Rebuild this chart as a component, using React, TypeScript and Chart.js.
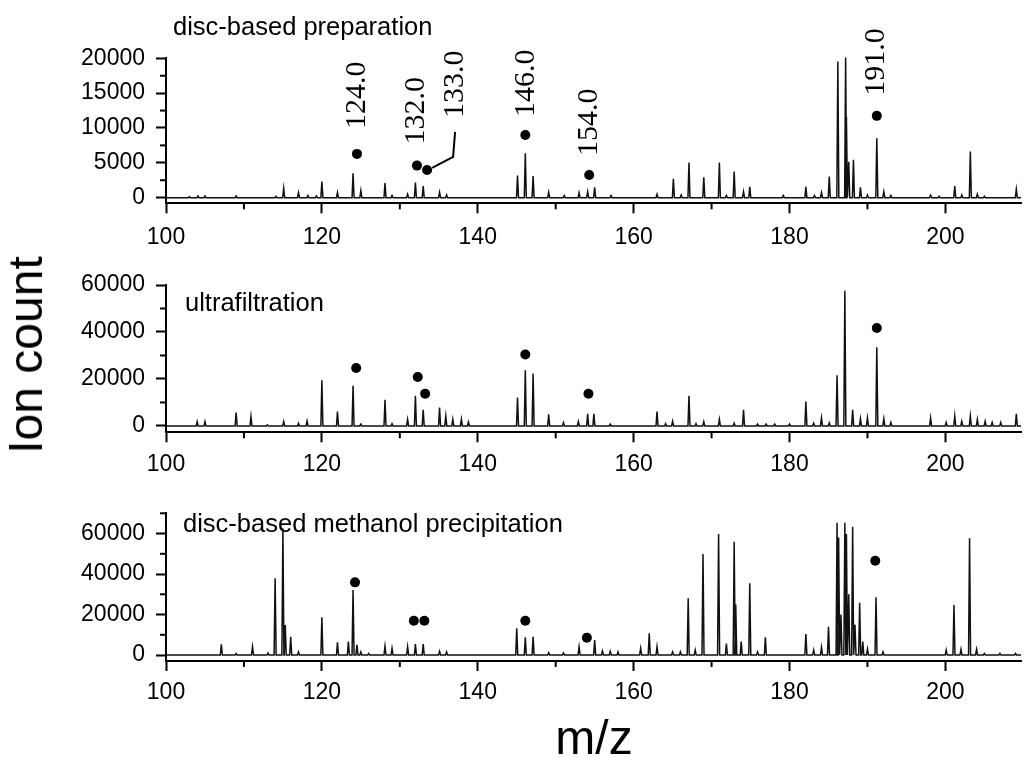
import React, { useEffect, useRef } from "react";
import { Chart, registerables } from "chart.js";

Chart.register(...registerables);
Chart.defaults.font.family = '"Liberation Sans", Arial, sans-serif';

// ---------- data ----------
const X_MIN = 100;
const X_MAX = 209.7;
const X_MAJOR = [100, 120, 140, 160, 180, 200];
const X_MINOR = [110, 130, 150, 170, 190];

// panel 1: disc-based preparation
const p1Mz = [103.0, 104.1, 105.0, 109.0, 114.1, 115.1, 117.0, 118.2, 119.3, 120.0, 122.0, 124.0, 125.0, 128.1, 129.0, 131.0, 132.0, 133.0, 135.1, 136.0, 145.1, 146.1, 147.1, 149.1, 151.1, 153.0, 154.1, 155.0, 157.1, 163.0, 165.1, 166.1, 167.1, 169.0, 171.0, 171.9, 172.9, 174.1, 174.9, 179.2, 182.1, 183.2, 184.1, 185.1, 186.2, 187.2, 187.3, 187.6, 188.2, 189.1, 190.0, 191.2, 192.1, 193.0, 198.1, 199.2, 201.2, 202.1, 203.2, 204.1, 205.0, 209.1];
const p1Int = [150, 250, 250, 250, 200, 1350, 720, 300, 250, 2300, 720, 3500, 1000, 2100, 300, 500, 2150, 1680, 770, 400, 3160, 6380, 3090, 770, 300, 700, 860, 1490, 300, 500, 2690, 400, 5030, 2930, 5030, 300, 3740, 860, 1540, 300, 1540, 300, 720, 3040, 19540, 20100, 11600, 5160, 5420, 1490, 400, 8530, 860, 300, 350, 200, 1680, 400, 6610, 500, 200, 1210];
const p1DotMz = [124.5, 132.2, 133.5, 146.1, 154.3, 191.2];
const p1DotVal = [6280, 4600, 3980, 9000, 3260, 11740];
const p1LabelText = ["124.0", "132.0", "133.0", "146.0", "154.0", "191.0"];
const p1YMajor = [0, 5000, 10000, 15000, 20000];
const p1YMinor = [2500, 7500, 12500, 17500];

// panel 2: ultrafiltration
const p2Mz = [104.0, 105.0, 109.0, 110.9, 113.0, 115.1, 117.0, 118.1, 120.0, 122.0, 124.0, 125.0, 128.1, 129.0, 131.0, 132.0, 133.0, 135.1, 135.9, 136.8, 137.9, 138.8, 145.1, 146.1, 147.1, 149.1, 151.0, 152.9, 154.1, 154.9, 157.0, 163.0, 164.1, 165.0, 167.1, 168.0, 169.0, 171.0, 172.9, 174.1, 175.9, 177.0, 178.1, 180.0, 182.1, 183.1, 184.1, 185.1, 186.1, 187.1, 188.1, 189.1, 190.0, 191.2, 192.1, 193.0, 198.1, 200.1, 201.2, 202.1, 203.2, 204.1, 205.1, 206.0, 207.1, 209.1];
const p2Int = [1850, 1850, 5700, 4000, 500, 1850, 1100, 2100, 19400, 6140, 17130, 800, 11140, 1000, 2800, 12850, 6850, 7850, 4280, 2850, 2850, 1700, 12130, 23700, 22270, 5000, 1400, 1850, 5140, 5140, 800, 6140, 1000, 2000, 12850, 1000, 1800, 2800, 1200, 6850, 800, 800, 800, 800, 10420, 1200, 3400, 1300, 21560, 57530, 6850, 3100, 3400, 33550, 3100, 1500, 3400, 1500, 4280, 2000, 4280, 2800, 2000, 1500, 1500, 5140];
const p2DotMz = [124.4, 132.3, 133.25, 146.1, 154.2, 191.2];
const p2DotVal = [24700, 20850, 13700, 30400, 13700, 41670];
const p2YMajor = [0, 20000, 40000, 60000];
const p2YMinor = [10000, 30000, 50000];

// panel 3: disc-based methanol precipitation
const p3Mz = [107.1, 109.0, 111.1, 113.1, 114.0, 115.0, 115.3, 116.0, 117.0, 120.0, 122.0, 123.4, 124.0, 124.5, 125.0, 126.0, 128.1, 129.0, 131.0, 132.0, 133.0, 135.1, 136.0, 145.0, 146.1, 147.1, 149.1, 151.0, 153.0, 155.0, 156.0, 157.0, 158.0, 160.9, 162.0, 163.0, 165.0, 166.0, 167.0, 167.9, 168.9, 170.9, 171.9, 172.9, 173.1, 173.8, 174.9, 175.9, 176.9, 182.1, 183.1, 184.1, 185.0, 186.1, 186.3, 186.6, 187.1, 187.3, 187.6, 188.1, 188.4, 189.0, 189.4, 190.0, 191.1, 192.0, 200.1, 201.1, 202.0, 203.1, 204.0, 205.0, 207.0, 209.0];
const p3Int = [5270, 700, 4100, 1000, 37900, 62600, 14800, 9000, 1500, 18600, 6270, 6600, 32100, 5000, 1500, 800, 4400, 3300, 4100, 5430, 5430, 1800, 1500, 13170, 8730, 9050, 1200, 1000, 4100, 7400, 2000, 1800, 1500, 3300, 10700, 4100, 1500, 1500, 28000, 2500, 49900, 59800, 5700, 56000, 25000, 6600, 35400, 1500, 8730, 10370, 2500, 3800, 14000, 65300, 58000, 20000, 65300, 59800, 30000, 63400, 15000, 25850, 6600, 3000, 28500, 1500, 2500, 24700, 2800, 57650, 2800, 800, 800, 800];
const p3DotMz = [124.25, 131.8, 133.15, 146.1, 154.0, 191.0];
const p3DotVal = [35900, 16950, 16950, 16950, 8550, 46600];
const p3YMajor = [0, 20000, 40000, 60000];
const p3YMinor = [10000, 30000, 50000, 70000];

// ---------- styles / layout ----------
const PEAK_HALF_WIDTH = 0.13;
const AXIS_LEFT = 166;
const W = 1026;

type Panel = {
  top: number; height: number; areaTop: number; areaBottom: number;
  yMin: number; yMax: number; yMajor: number[]; yMinor: number[];
  mz: number[]; inten: number[]; dotMz: number[]; dotVal: number[];
  title: string; titleX: number; titleBase: number; xPad: number;
  labels?: string[];
};

const PANELS: Panel[] = [
  { top: 0, height: 255, areaTop: 58.3, areaBottom: 203.3, yMin: -810, yMax: 20000, yMajor: p1YMajor, yMinor: p1YMinor,
    mz: p1Mz, inten: p1Int, dotMz: p1DotMz, dotVal: p1DotVal, title: "disc-based preparation", titleX: 173, titleBase: 35, xPad: 11, labels: p1LabelText },
  { top: 255, height: 230, areaTop: 30, areaBottom: 177.3, yMin: -2700, yMax: 60000, yMajor: p2YMajor, yMinor: p2YMinor,
    mz: p2Mz, inten: p2Int, dotMz: p2DotMz, dotVal: p2DotVal, title: "ultrafiltration", titleX: 185, titleBase: 310.5, xPad: 9 },
  { top: 485, height: 230, areaTop: 28.3, areaBottom: 176, yMin: -2950, yMax: 70000, yMajor: p3YMajor, yMinor: p3YMinor,
    mz: p3Mz, inten: p3Int, dotMz: p3DotMz, dotVal: p3DotVal, title: "disc-based methanol precipitation", titleX: 183, titleBase: 531.5, xPad: 8 },
];

// label offsets (pixels) relative to marker dot, panel 1
const LABEL_OFFSETS = [[0, -25], [-0.8, -21], [28.5, -52], [0.8, -18], [0, -19], [-0.7, -20]];

function spectrum(mz: number[], inten: number[]) {
  const pts: { x: number; y: number }[] = [{ x: X_MIN, y: 0 }];
  mz.forEach((m, i) => {
    pts.push({ x: m - PEAK_HALF_WIDTH, y: 0 }, { x: m, y: inten[i] }, { x: m + PEAK_HALF_WIDTH, y: 0 });
  });
  pts.push({ x: X_MAX, y: 0 });
  return pts;
}

function PanelChart({ p }: { p: Panel }) {
  const ref = useRef<HTMLCanvasElement | null>(null);
  useEffect(() => {
    if (!ref.current) return;
    const decor = {
      id: "decor",
      afterDraw(chart: any) {
        const ctx = chart.ctx;
        const xs = chart.scales.x;
        const ys = chart.scales.y;
        const area = chart.chartArea;
        ctx.save();
        ctx.strokeStyle = "#000";
        ctx.lineWidth = 2;
        // minor ticks
        X_MINOR.forEach((v) => {
          const px = xs.getPixelForValue(v);
          ctx.beginPath(); ctx.moveTo(px, area.bottom); ctx.lineTo(px, area.bottom + 6); ctx.stroke();
        });
        p.yMinor.forEach((v) => {
          const py = ys.getPixelForValue(v);
          ctx.beginPath(); ctx.moveTo(area.left, py); ctx.lineTo(area.left - 6, py); ctx.stroke();
        });
        // title
        ctx.fillStyle = "#000";
        ctx.font = '25.5px "Liberation Sans", Arial, sans-serif';
        ctx.textAlign = "left";
        ctx.textBaseline = "alphabetic";
        ctx.fillText(p.title, p.titleX, p.titleBase - p.top);
        // rotated labels
        if (p.labels) {
          const meta = chart.getDatasetMeta(1);
          ctx.font = '30px "Liberation Serif", "Times New Roman", serif';
          p.labels.forEach((t, i) => {
            const pt = meta.data[i];
            const [dx, dy] = LABEL_OFFSETS[i];
            ctx.save();
            ctx.translate(pt.x + dx, pt.y + dy);
            ctx.rotate(-Math.PI / 2);
            ctx.textAlign = "left";
            ctx.textBaseline = "middle";
            ctx.fillText(t, 0, 0);
            ctx.restore();
            if (i === 2) {
              ctx.lineWidth = 2;
              ctx.beginPath();
              ctx.moveTo(pt.x + 5, pt.y - 2);
              ctx.lineTo(pt.x + 26, pt.y - 13);
              ctx.lineTo(pt.x + 28, pt.y - 38);
              ctx.stroke();
            }
          });
        }
        ctx.restore();
      },
    };
    const tickFont = { size: 23, family: '"Liberation Sans", Arial, sans-serif' };
    const chart = new Chart(ref.current, {
      type: "line",
      data: {
        datasets: [
          { data: spectrum(p.mz, p.inten), borderColor: "#111", borderWidth: 1.5, pointRadius: 0, tension: 0, clip: false } as any,
          { data: p.dotMz.map((m, i) => ({ x: m, y: p.dotVal[i] })), showLine: false, pointRadius: 5, pointBackgroundColor: "#000", pointBorderColor: "#000", borderWidth: 0 } as any,
        ],
      },
      options: {
        responsive: false,
        animation: false,
        events: [],
        layout: { padding: { top: p.areaTop, left: 0, right: 0, bottom: 0 } },
        plugins: { legend: { display: false }, tooltip: { enabled: false } },
        scales: {
          x: {
            type: "linear", min: X_MIN, max: X_MAX,
            afterBuildTicks: (s: any) => { s.ticks = X_MAJOR.map((v) => ({ value: v })); },
            afterFit: (s: any) => { s.height = p.height - p.areaBottom; },
            ticks: { font: tickFont, color: "#000", padding: p.xPad, autoSkip: false, maxRotation: 0, callback: (v: any) => String(v) },
            grid: { drawOnChartArea: false, tickLength: 10, tickWidth: 2, tickColor: "#000" },
            border: { color: "#000", width: 2 },
          },
          y: {
            type: "linear", min: p.yMin, max: p.yMax,
            afterBuildTicks: (s: any) => { s.ticks = p.yMajor.map((v) => ({ value: v })); },
            afterFit: (s: any) => { s.width = AXIS_LEFT; },
            ticks: { font: tickFont, color: "#000", padding: 11, callback: (v: any) => String(v) },
            grid: { drawOnChartArea: false, tickLength: 10, tickWidth: 2, tickColor: "#000" },
            border: { color: "#000", width: 2 },
          },
        },
      } as any,
      plugins: [decor],
    });
    return () => chart.destroy();
  }, [p]);
  return (
    <canvas ref={ref} width={W} height={p.height}
      style={{ position: "absolute", left: 0, top: p.top, width: W, height: p.height }} />
  );
}

export default function App() {
  return (
    <div style={{ position: "absolute", left: 0, top: 0, width: W, height: 760, background: "#fff", overflow: "hidden" }}>
      {PANELS.map((p, i) => <PanelChart key={i} p={p} />)}
      <div style={{ position: "absolute", left: 26.4, top: 355, fontFamily: '"Liberation Sans", Arial, sans-serif', fontSize: 48, lineHeight: "48px", whiteSpace: "nowrap", transform: "translate(-50%, -50%) rotate(-90deg)", color: "#000" }}>Ion count</div>
      <div style={{ position: "absolute", left: 594, top: 714.4, fontFamily: '"Liberation Sans", Arial, sans-serif', fontSize: 48, lineHeight: "48px", whiteSpace: "nowrap", transform: "translateX(-50%)", color: "#000" }}>m/z</div>
    </div>
  );
}
